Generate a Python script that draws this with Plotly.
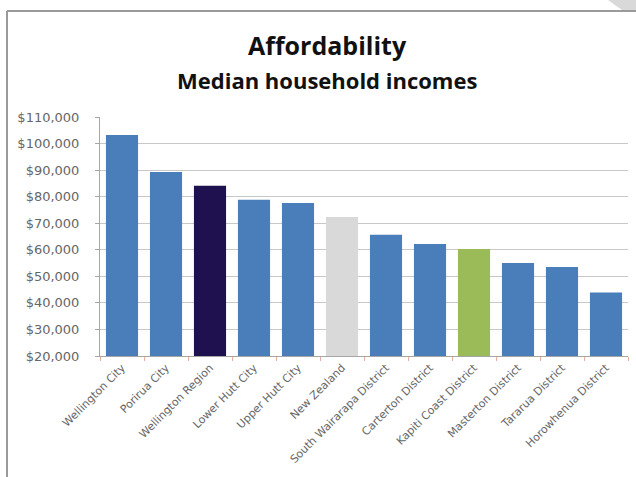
import plotly.graph_objects as go

# Median household income by area
areas = [
    "Wellington City", "Porirua City", "Wellington Region", "Lower Hutt City",
    "Upper Hutt City", "New Zealand", "South Wairarapa District",
    "Carterton District", "Kapiti Coast District", "Masterton District",
    "Tararua District", "Horowhenua District",
]
incomes = [103200, 89300, 84100, 78800, 77600, 72300, 65700, 62200, 60300, 55000, 53500, 43900]
bar_colors = [
    "#4a7ebb", "#4a7ebb", "#1f1050", "#4a7ebb", "#4a7ebb", "#d9d9d9",
    "#4a7ebb", "#4a7ebb", "#9bbb59", "#4a7ebb", "#4a7ebb", "#4a7ebb",
]
y_ticks = [20000, 30000, 40000, 50000, 60000, 70000, 80000, 90000, 100000, 110000]
y_labels = ["$" + f"{v:,}" for v in y_ticks]

W, H = 636, 477
ML, MR, MT, MB = 100, 8, 117, 121
PW, PH = W - ML - MR, H - MT - MB


def px_x(x):
    return (x - ML) / PW


def px_y(y):
    return (H - MB - y) / PH


fig = go.Figure(
    go.Bar(x=areas, y=incomes, marker=dict(color=bar_colors, line=dict(width=0)))
)

fig.update_layout(
    width=W,
    height=H,
    margin=dict(l=ML, r=MR, t=MT, b=MB),
    paper_bgcolor="white",
    plot_bgcolor="white",
    bargap=0.27,
    showlegend=False,
    font=dict(family="DejaVu Sans, sans-serif", color="#595959"),
    annotations=[
        dict(text="<b>Affordability</b>", x=px_x(327), y=px_y(45),
             xref="paper", yref="paper", xanchor="center", yanchor="middle",
             showarrow=False, font=dict(size=25, color="#111111", family="Open Sans, sans-serif")),
        dict(text="<b>Median household incomes</b>", x=px_x(327), y=px_y(80),
             xref="paper", yref="paper", xanchor="center", yanchor="middle",
             showarrow=False, font=dict(size=22, color="#111111", family="Open Sans, sans-serif")),
    ],
)

fig.update_yaxes(
    range=[20000, 110000],
    tickvals=y_ticks,
    ticktext=y_labels,
    tickfont=dict(size=13, color="#666666", family="DejaVu Sans, sans-serif"),
    ticklabelstandoff=13,
    showgrid=True,
    gridcolor="#c8c8c8",
    gridwidth=1,
    showline=True,
    linecolor="#a6a6a6",
    ticks="outside",
    ticklen=4,
    tickcolor="#a6a6a6",
    zeroline=False,
)
fig.update_xaxes(
    tickangle=-45,
    tickfont=dict(size=11, color="#666666", family="DejaVu Sans, sans-serif"),
    showline=True,
    linecolor="#a6a6a6",
    ticks="outside",
    ticklen=4,
    tickcolor="#e8b0a0",
    tickson="boundaries",
)

# chart frame and corner decoration
fig.add_shape(type="line", xref="paper", yref="paper", x0=px_x(7), x1=px_x(W),
              y0=px_y(11), y1=px_y(11), line=dict(color="#9a9a9a", width=2))
fig.add_shape(type="line", xref="paper", yref="paper", x0=px_x(7), x1=px_x(7),
              y0=px_y(11), y1=px_y(H), line=dict(color="#9a9a9a", width=2))
fig.add_shape(type="path", xref="paper", yref="paper",
              path="M {a},{t} L {b},{t} L {b},{u} L {c},{u} Z".format(
                  a=px_x(608), b=px_x(W), c=px_x(622), t=px_y(0), u=px_y(10)),
              fillcolor="#d9d9d9", line=dict(width=0))

fig.write_html("out.html")
